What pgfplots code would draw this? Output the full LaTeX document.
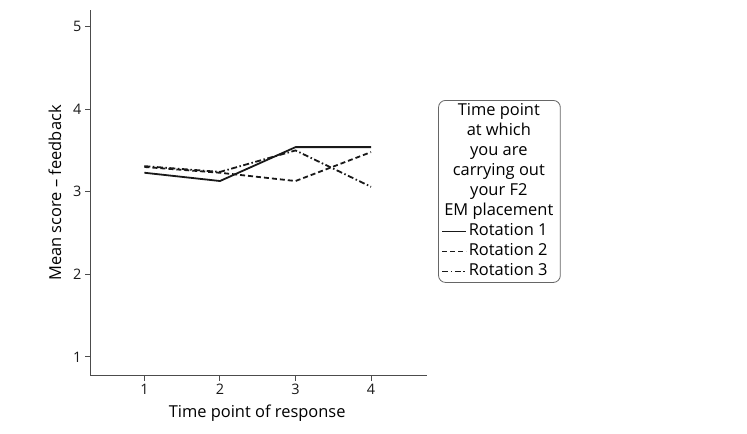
\documentclass[border=0pt]{standalone}
\usepackage{fontspec}
\setmainfont{Open Sans}
\usepackage{pgfplots}
\pgfplotsset{compat=1.18}
\newcommand{\tl}[1]{\hspace*{-27bp}\makebox[114bp][c]{#1}}
\begin{document}
\begin{tikzpicture}[x=1bp,y=1bp]
\path (-90,-58) rectangle (657,376);
\begin{axis}[
  at={(0,0)}, anchor=south west,
  scale only axis, width=337bp, height=366bp,
  xmin=0.28, xmax=4.74, ymin=0.77, ymax=5.2,
  axis x line*=bottom, axis y line*=left,
  axis line style={draw=black!70, line width=1bp, -},
  tick style={draw=black!70, line width=1bp},
  tick align=outside, major tick length=5bp,
  xtick={1,2,3,4}, ytick={1,2,3,4,5},
  ticklabel style={font=\fontsize{14.5}{16}\selectfont, text=black!90},
  /pgf/number format/assume math mode=true,
  xlabel={Time point of response}, ylabel={Mean score – feedback},
  every axis x label/.style={at={(axis description cs:0.496,-0.101)}, anchor=center, font=\fontsize{16.5}{18}\selectfont},
  every axis y label/.style={at={(axis description cs:-0.104,0.5)}, rotate=90, anchor=center, font=\fontsize{16.5}{18}\selectfont},
  legend style={at={(1.033,0.754)}, anchor=north west, draw=black!60, line width=0.8bp, rounded corners=7bp,
    font=\fontsize{16.5}{18}\selectfont, row sep=0bp, inner xsep=3bp, inner ysep=1bp,
    nodes={inner xsep=1.5bp, inner ysep=2bp, text height=12bp, text depth=4bp}},
  legend cell align=left,
  legend image code/.code={\draw[#1] (0bp,0bp) -- (24bp,0bp);},
]
\addlegendimage{empty legend}\addlegendentry{\tl{Time point}}
\addlegendimage{empty legend}\addlegendentry{\tl{at which}}
\addlegendimage{empty legend}\addlegendentry{\tl{you are}}
\addlegendimage{empty legend}\addlegendentry{\tl{carrying out}}
\addlegendimage{empty legend}\addlegendentry{\tl{your F2}}
\addlegendimage{empty legend}\addlegendentry{\tl{EM placement}}
\addplot[black!90, line width=1.8bp] coordinates {(1,3.23) (2,3.13) (3,3.54) (4,3.54)};
\addlegendentry{Rotation 1}
\addplot[black!90, line width=1.8bp, dash pattern=on 5bp off 3bp] coordinates {(1,3.30) (2,3.23) (3,3.13) (4,3.48)};
\addlegendentry{Rotation 2}
\addplot[black!90, line width=1.8bp, dash pattern=on 6bp off 2.5bp on 1.5bp off 2.5bp] coordinates {(1,3.31) (2,3.24) (3,3.50) (4,3.06)};
\addlegendentry{Rotation 3}
\end{axis}
\end{tikzpicture}
\end{document}
